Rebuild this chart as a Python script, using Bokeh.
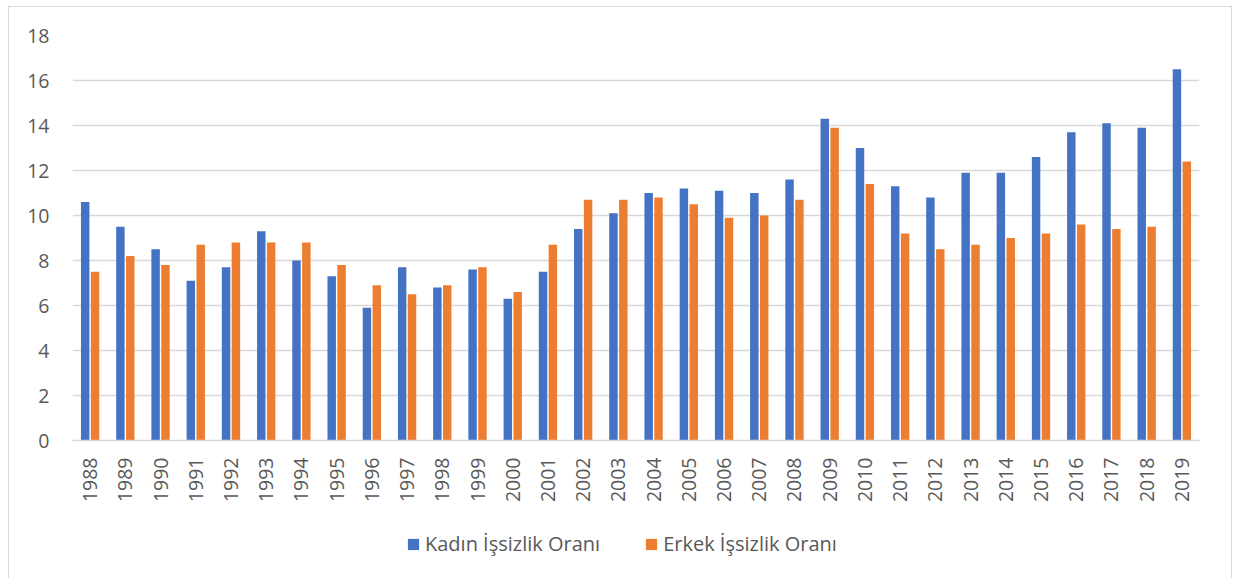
from bokeh.plotting import figure
from bokeh.models import FactorRange, FixedTicker, Legend, LegendItem, Range1d
from bokeh.layouts import column
from bokeh.transform import dodge
from bokeh.embed import file_html
from bokeh.resources import INLINE
import math

years = [str(y) for y in range(1988, 2020)]
kadin = [10.6, 9.5, 8.5, 7.1, 7.7, 9.3, 8.0, 7.3, 5.9, 7.7, 6.8, 7.6, 6.3, 7.5, 9.4, 10.1,
         11.0, 11.2, 11.1, 11.0, 11.6, 14.3, 13.0, 11.3, 10.8, 11.9, 11.9, 12.6, 13.7, 14.1, 13.9, 16.5]
erkek = [7.5, 8.2, 7.8, 8.7, 8.8, 8.8, 8.8, 7.8, 6.9, 6.5, 6.9, 7.7, 6.6, 8.7, 10.7, 10.7,
         10.8, 10.5, 9.9, 10.0, 10.7, 13.9, 11.4, 9.2, 8.5, 8.7, 9.0, 9.2, 9.6, 9.4, 9.5, 12.4]
series_names = ["Kadın İşsizlik Oranı", "Erkek İşsizlik Oranı"]
y_ticks = [0, 2, 4, 6, 8, 10, 12, 14, 16, 18]

FONT = "Open Sans"
TEXT = "#595959"
GRID = "#d9d9d9"
BLUE = "#4472C4"
ORANGE = "#ED7D31"

p = figure(x_range=FactorRange(*years, range_padding=0), y_range=(0, 18),
           width=1222, height=499, output_backend="svg", toolbar_location=None,
           min_border_left=63, min_border_right=32, min_border_top=28, min_border_bottom=66)
p.outline_line_color = None

src = dict(years=years, kadin=kadin, erkek=erkek)
p.vbar(x=dodge("years", -0.14, range=p.x_range), top="kadin", width=0.24, source=src,
       fill_color=BLUE, line_color=None)
p.vbar(x=dodge("years", 0.14, range=p.x_range), top="erkek", width=0.24, source=src,
       fill_color=ORANGE, line_color=None)

p.yaxis.ticker = FixedTicker(ticks=y_ticks)
p.ygrid.grid_line_color = GRID
p.ygrid.grid_line_width = 1.5
p.xgrid.grid_line_color = None

for ax in (p.xaxis, p.yaxis):
    ax.major_tick_line_color = None
    ax.minor_tick_line_color = None
    ax.major_tick_out = 0
    ax.major_label_text_font = FONT
    ax.major_label_text_font_size = "19.5px"
    ax.major_label_text_color = TEXT
p.yaxis.axis_line_color = None
p.yaxis.major_label_standoff = 23
p.xaxis.axis_line_color = GRID
p.xaxis.axis_line_width = 1.5
p.xaxis.major_label_orientation = math.pi / 2
p.xaxis.major_label_standoff = 17

# legend strip
lg = figure(width=1222, height=73, output_backend="svg", toolbar_location=None,
            x_axis_type=None, y_axis_type=None, x_range=Range1d(0, 1), y_range=Range1d(0, 1),
            min_border_left=0, min_border_right=0, min_border_top=0, min_border_bottom=0)
lg.outline_line_color = None
lg.grid.grid_line_color = None
d1 = lg.vbar(x=[5], top=[5], bottom=[4], width=0.1, fill_color=BLUE, line_color=None)
d2 = lg.vbar(x=[5], top=[5], bottom=[4], width=0.1, fill_color=ORANGE, line_color=None)

legend = Legend(items=[LegendItem(label=series_names[0], renderers=[d1]),
                       LegendItem(label=series_names[1], renderers=[d2])],
                location=(334, 22), orientation="horizontal",
                padding=0, margin=0, spacing=44, label_standoff=5,
                glyph_width=14, glyph_height=14,
                label_text_font=FONT, label_text_font_size="20px",
                label_text_color=TEXT, border_line_color=None,
                background_fill_alpha=0)
lg.add_layout(legend, "center")

layout = column(p, lg, spacing=0)
layout.styles = {"border": "1px solid #d9d9d9", "margin-left": "8px", "margin-top": "6px"}

open("out.html", "w").write(file_html(layout, INLINE))
